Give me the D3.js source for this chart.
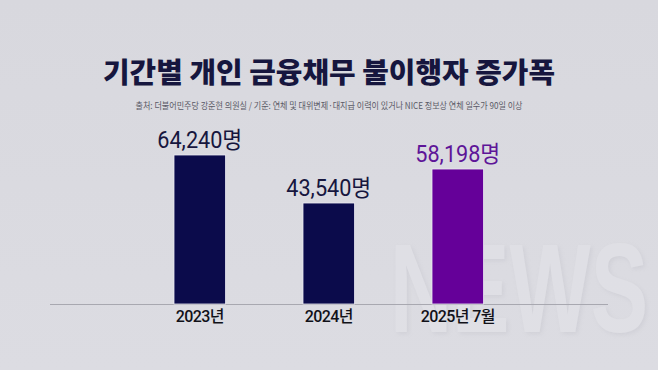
<!DOCTYPE html>
<html>
<head>
<meta charset="utf-8">
<script src="https://cdn.jsdelivr.net/npm/d3@7"></script>
<style>
  body { margin:0; background:#d9d9df; }
  svg { display:block; }
</style>
</head>
<body>
<div id="chart"></div>
<script>
var svgWidth = 658;
var svgHeight = 370;

// data
var categories = ["2023년", "2024년", "2025년 7월"];
var values = [64240, 43540, 58198];
var valueLabels = ["64,240명", "43,540명", "58,198명"];
var barColors = ["#0b0b4b", "#0b0b4b", "#650099"];
var labelColors = ["#16163e", "#16163e", "#5e1598"];

var title = "기간별 개인 금융채무 불이행자 증가폭";
var source = "출처: 더불어민주당 강준현 의원실 / 기준: 연체 및 대위변제·대지급 이력이 있거나 NICE 정보상 연체 일수가 90일 이상";

var svg = d3.select("#chart")
  .append("svg")
  .attr("width", svgWidth)
  .attr("height", svgHeight);

// background
var defs = svg.append("defs");
var grad = defs.append("linearGradient").attr("id", "bg").attr("x1", 0).attr("y1", 0).attr("x2", 0).attr("y2", 1);
grad.append("stop").attr("offset", "0%").attr("stop-color", "#d8d8de");
grad.append("stop").attr("offset", "100%").attr("stop-color", "#dcdce2");
svg.append("rect").attr("width", svgWidth).attr("height", svgHeight).attr("fill", "url(#bg)");

// faint NEWS watermark
var shadow = defs.append("filter").attr("id", "soft").attr("x", "-10%").attr("y", "-10%").attr("width", "120%").attr("height", "120%");
shadow.append("feDropShadow").attr("dx", 2).attr("dy", 2).attr("stdDeviation", 2)
  .attr("flood-color", "#a8a8b2").attr("flood-opacity", 0.35);
svg.append("text")
  .attr("x", 390).attr("y", 332)
  .attr("font-family", "Liberation Sans, Arial, sans-serif")
  .attr("font-weight", 700)
  .attr("font-size", 126)
  .attr("fill", "#e3e3e8")
  .attr("opacity", 0.6)
  .attr("filter", "url(#soft)")
  .attr("textLength", 258)
  .attr("lengthAdjust", "spacingAndGlyphs")
  .text("NEWS");

// title + source
svg.append("text")
  .attr("x", 329).attr("y", 83)
  .attr("text-anchor", "middle")
  .attr("font-family", "Noto Sans CJK KR, sans-serif")
  .attr("font-weight", 900)
  .attr("font-size", 28)
  .attr("fill", "#16163e")
  .attr("textLength", 452)
  .attr("lengthAdjust", "spacingAndGlyphs")
  .text(title);

svg.append("text")
  .attr("x", 329).attr("y", 109)
  .attr("text-anchor", "middle")
  .attr("font-family", "Noto Sans CJK KR, sans-serif")
  .attr("font-size", 9)
  .attr("fill", "#5a5a66")
  .attr("textLength", 387)
  .attr("lengthAdjust", "spacingAndGlyphs")
  .text(source);

// scales
var x = d3.scaleBand()
  .domain(categories)
  .range([96.6, 561])
  .padding(0.6);

var y = d3.scaleLinear()
  .domain([0, d3.max(values)])
  .range([304, 155]);

var data = categories.map(function(c, i) {
  return {cat: c, value: values[i], label: valueLabels[i], color: barColors[i], labelColor: labelColors[i]};
});

// baseline
svg.append("line")
  .attr("x1", 50).attr("x2", 608)
  .attr("y1", y(0) + 0.5).attr("y2", y(0) + 0.5)
  .attr("stroke", "#a8a8b0")
  .attr("stroke-width", 1);

// bars
svg.selectAll("rect.bar")
  .data(data)
  .enter()
  .append("rect")
  .attr("class", "bar")
  .attr("x", d => x(d.cat))
  .attr("y", d => y(d.value))
  .attr("width", x.bandwidth())
  .attr("height", d => y(0) - y(d.value))
  .attr("fill", d => d.color)
  .attr("stroke", "#ecebf3")
  .attr("stroke-width", 0.8);

// value labels
svg.selectAll("text.val")
  .data(data)
  .enter()
  .append("text")
  .attr("class", "val")
  .attr("x", d => x(d.cat) + x.bandwidth() / 2)
  .attr("y", d => y(d.value) - 7)
  .attr("text-anchor", "middle")
  .attr("font-family", "Roboto, Noto Sans CJK KR, sans-serif")
  .attr("font-size", 23)
  .attr("fill", d => d.labelColor)
  .attr("textLength", 85)
  .attr("lengthAdjust", "spacingAndGlyphs")
  .text(d => d.label);

// category labels
svg.selectAll("text.cat")
  .data(data)
  .enter()
  .append("text")
  .attr("class", "cat")
  .attr("x", d => x(d.cat) + x.bandwidth() / 2)
  .attr("y", y(0) + 18)
  .attr("text-anchor", "middle")
  .attr("font-family", "Roboto, Noto Sans CJK KR, sans-serif")
  .attr("font-weight", 500)
  .attr("font-size", 16)
  .attr("fill", "#111118")
  .attr("letter-spacing", -0.6)
  .text(d => d.cat);
</script>
</body>
</html>
